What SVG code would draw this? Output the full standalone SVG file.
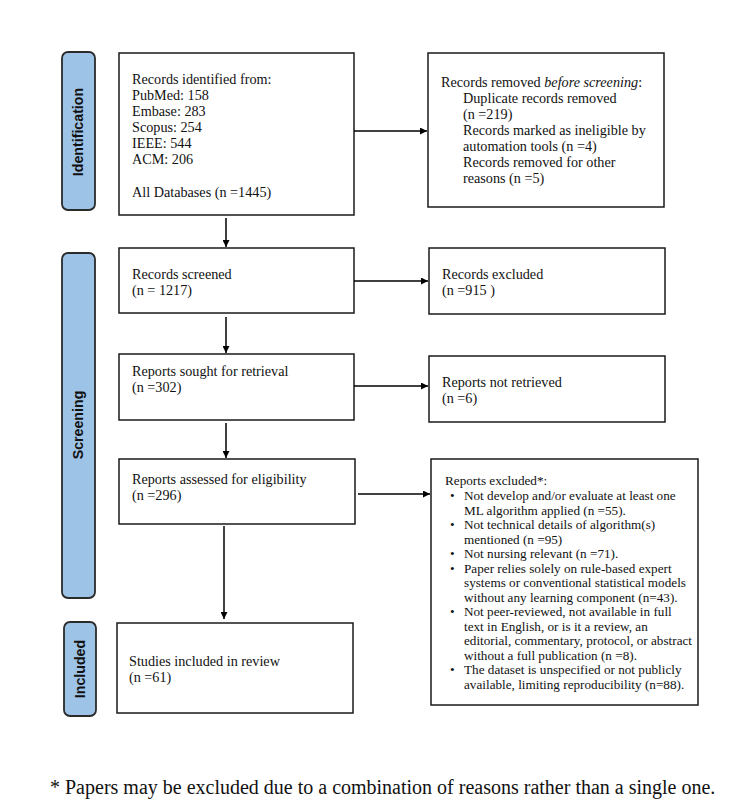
<svg xmlns="http://www.w3.org/2000/svg" width="750" height="811" viewBox="0 0 750 811">
<style>
.bg{fill:#ffffff}
.box{fill:#ffffff;stroke:#1a1a1a;stroke-width:1.5}
.side{fill:#9dc3e6;stroke:#2b2b2b;stroke-width:1.8}
.t{font-family:"Liberation Serif","Times New Roman",serif;font-size:14.2px;fill:#111}
.s{font-family:"Liberation Serif","Times New Roman",serif;font-size:13.2px;fill:#111}
.lab{font-family:"Liberation Sans",Arial,sans-serif;font-size:14.2px;font-weight:bold;fill:#111;text-anchor:middle}
.c{stroke:#000;stroke-width:1.5;fill:none}
.foot{font-family:"Liberation Serif","Times New Roman",serif;font-size:20px;fill:#111}
</style>
<defs>
<marker id="ah" viewBox="0 0 10 10" refX="10" refY="5" markerWidth="7" markerHeight="7" markerUnits="userSpaceOnUse" orient="auto">
<path d="M0,0 L10,5 L0,10 z" fill="#000"/>
</marker>
</defs>
<rect class="bg" x="0" y="0" width="750" height="811"/>

<g id="side-identification">
<rect class="side" x="62" y="52" width="33" height="158" rx="6"/>
<text class="lab" transform="translate(83,132) rotate(-90)">Identification</text>
</g>
<g id="side-screening">
<rect class="side" x="62" y="253" width="33" height="345" rx="6"/>
<text class="lab" transform="translate(83,425) rotate(-90)">Screening</text>
</g>
<g id="side-included">
<rect class="side" x="64" y="622" width="32" height="94" rx="6"/>
<text class="lab" transform="translate(85,669) rotate(-90)">Included</text>
</g>

<g id="records-identified">
<rect class="box" x="119" y="53" width="235" height="162"/>
<text class="t" x="132" y="84">Records identified from:</text>
<text class="t" x="132" y="100">PubMed: 158</text>
<text class="t" x="132" y="116">Embase: 283</text>
<text class="t" x="132" y="132">Scopus: 254</text>
<text class="t" x="132" y="148">IEEE: 544</text>
<text class="t" x="132" y="164">ACM: 206</text>
<text class="t" x="132" y="197">All Databases (n =1445)</text>
</g>

<g id="records-removed">
<rect class="box" x="428" y="53" width="236" height="154"/>
<text class="t" x="441" y="87">Records removed <tspan font-style="italic">before screening</tspan>:</text>
<text class="t" x="463" y="103">Duplicate records removed</text>
<text class="t" x="463" y="119">(n =219)</text>
<text class="t" x="463" y="135">Records marked as ineligible by</text>
<text class="t" x="463" y="151">automation tools (n =4)</text>
<text class="t" x="463" y="167">Records removed for other</text>
<text class="t" x="463" y="183">reasons (n =5)</text>
</g>

<g id="records-screened">
<rect class="box" x="119" y="248" width="235" height="65"/>
<text class="t" x="132" y="279">Records screened</text>
<text class="t" x="132" y="295">(n = 1217)</text>
</g>

<g id="records-excluded">
<rect class="box" x="429" y="248" width="236" height="66"/>
<text class="t" x="442" y="279">Records excluded</text>
<text class="t" x="442" y="295">(n =915 )</text>
</g>

<g id="reports-sought">
<rect class="box" x="119" y="354" width="235" height="66"/>
<text class="t" x="132" y="376">Reports sought for retrieval</text>
<text class="t" x="132" y="392">(n =302)</text>
</g>

<g id="reports-not-retrieved">
<rect class="box" x="429" y="356" width="236" height="66"/>
<text class="t" x="442" y="387">Reports not retrieved</text>
<text class="t" x="442" y="403">(n =6)</text>
</g>

<g id="reports-assessed">
<rect class="box" x="119" y="459" width="236" height="65"/>
<text class="t" x="132" y="484">Reports assessed for eligibility</text>
<text class="t" x="132" y="500">(n =296)</text>
</g>

<g id="reports-excluded">
<rect class="box" x="431" y="459" width="267" height="246"/>
<text class="s" x="445" y="485">Reports excluded*:</text>
<g class="s">
<text x="450" y="500">•</text><text x="464" y="500">Not develop and/or evaluate at least one</text>
<text x="464" y="514.5">ML algorithm applied (n =55).</text>
<text x="450" y="529">•</text><text x="464" y="529">Not technical details of algorithm(s)</text>
<text x="464" y="543.5">mentioned (n =95)</text>
<text x="450" y="558">•</text><text x="464" y="558">Not nursing relevant (n =71).</text>
<text x="450" y="572.5">•</text><text x="464" y="572.5">Paper relies solely on rule-based expert</text>
<text x="464" y="587">systems or conventional statistical models</text>
<text x="464" y="601.5">without any learning component (n=43).</text>
<text x="450" y="616">•</text><text x="464" y="616">Not peer-reviewed, not available in full</text>
<text x="464" y="630.5">text in English, or is it a review, an</text>
<text x="464" y="645">editorial, commentary, protocol, or abstract</text>
<text x="464" y="659.5">without a full publication (n =8).</text>
<text x="450" y="674">•</text><text x="464" y="674">The dataset is unspecified or not publicly</text>
<text x="464" y="688.5">available, limiting reproducibility (n=88).</text>
</g>
</g>

<g id="studies-included">
<rect class="box" x="117" y="623" width="236" height="90"/>
<text class="t" x="129" y="666">Studies included in review</text>
<text class="t" x="129" y="682">(n =61)</text>
</g>

<g id="connectors">
<line class="c" x1="354" y1="131" x2="427" y2="131" marker-end="url(#ah)"/>
<line class="c" x1="226" y1="218" x2="226" y2="247" marker-end="url(#ah)"/>
<line class="c" x1="354" y1="281" x2="428" y2="281" marker-end="url(#ah)"/>
<line class="c" x1="226" y1="317" x2="226" y2="353" marker-end="url(#ah)"/>
<line class="c" x1="354" y1="386" x2="428" y2="386" marker-end="url(#ah)"/>
<line class="c" x1="226" y1="423" x2="226" y2="458" marker-end="url(#ah)"/>
<line class="c" x1="358" y1="494" x2="430" y2="494" marker-end="url(#ah)"/>
<line class="c" x1="224" y1="526" x2="224" y2="619" marker-end="url(#ah)"/>
</g>

<text class="foot" x="50" y="794">* Papers may be excluded due to a combination of reasons rather than a single one.</text>
</svg>
